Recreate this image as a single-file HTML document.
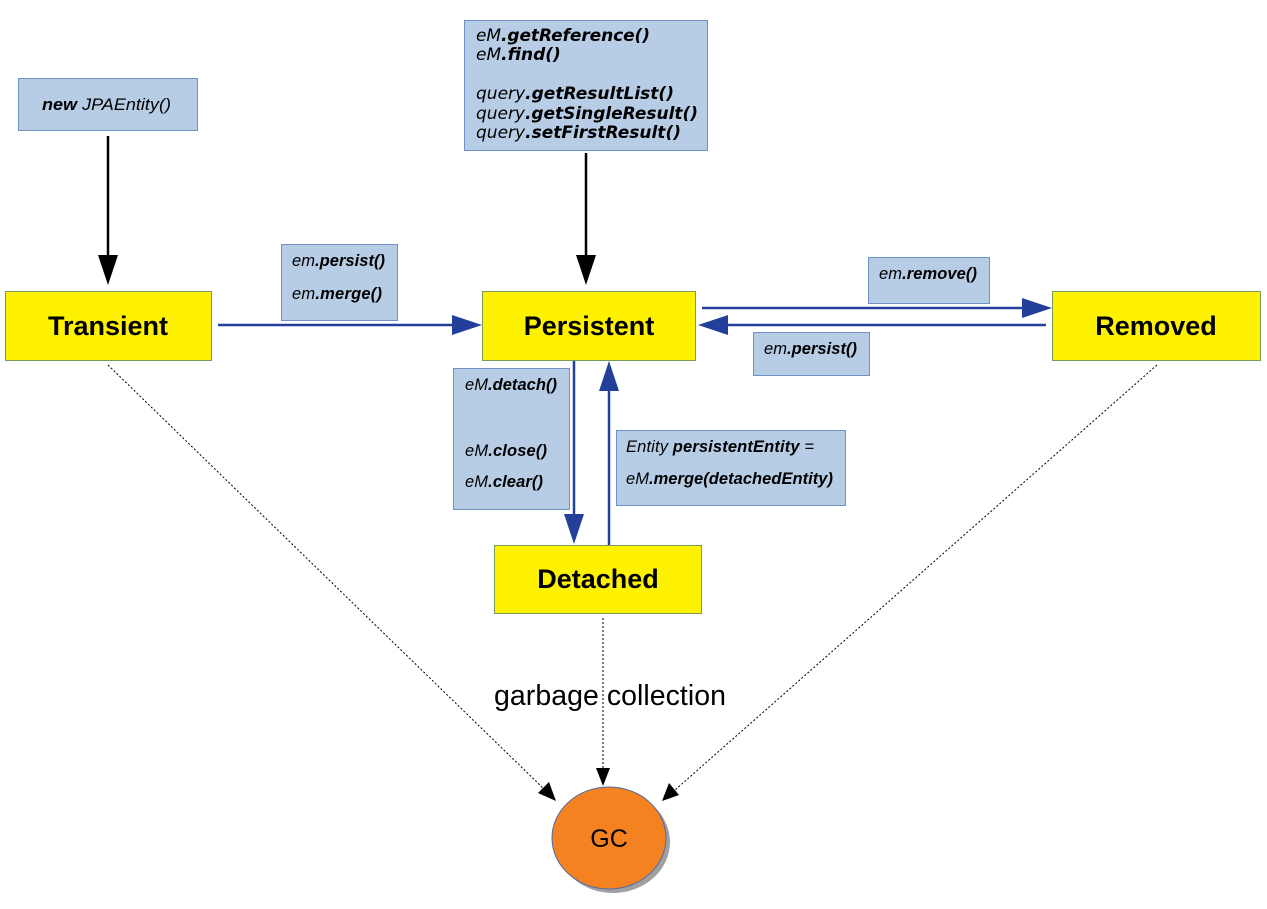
<!DOCTYPE html>
<html><head><meta charset="utf-8"><style>
html,body{margin:0;padding:0;background:#fff;}
svg{display:block;}
.lb{fill:#b7cde6;stroke:#6f92c4;stroke-width:1;}
.st{fill:#fff200;stroke:#7a9a5a;stroke-width:1;}
.sm{font-family:"Liberation Sans",sans-serif;font-style:italic;font-size:16.5px;fill:#000;}
.dv{font-family:"DejaVu Sans",sans-serif;font-style:italic;font-size:17px;fill:#000;}
.big{font-family:"Liberation Sans",sans-serif;font-weight:bold;font-size:27px;fill:#000;text-anchor:middle;}
.b{font-weight:bold;}
</style></head><body>
<svg width="1267" height="909" viewBox="0 0 1267 909" xmlns="http://www.w3.org/2000/svg">
<g stroke="#000" stroke-width="1" stroke-dasharray="2,2" fill="none">
<line x1="108" y1="365" x2="545" y2="790"/>
<line x1="603" y1="618" x2="603" y2="770"/>
<line x1="1157" y1="365" x2="675" y2="790"/>
</g>
<polygon points="556,801 538,793 549,782" fill="#000"/>
<polygon points="603,786 596,768 610,768" fill="#000"/>
<polygon points="662,801 669,783 679,795" fill="#000"/>

<rect class="lb" x="18.5" y="78.5" width="179" height="52"/>
<text class="sm" x="42" y="110" font-size="17.5" textLength="129" lengthAdjust="spacingAndGlyphs"><tspan class="b">new</tspan> JPAEntity()</text>
<rect class="lb" x="464.5" y="20.5" width="243" height="130"/>
<text class="dv" x="476" y="41" textLength="174">eM<tspan class="b">.getReference()</tspan></text>
<text class="dv" x="476" y="60">eM<tspan class="b">.find()</tspan></text>
<text class="dv" x="476" y="99" textLength="198">query<tspan class="b">.getResultList()</tspan></text>
<text class="dv" x="476" y="119" textLength="222">query<tspan class="b">.getSingleResult()</tspan></text>
<text class="dv" x="476" y="138" textLength="205">query<tspan class="b">.setFirstResult()</tspan></text>

<line x1="108" y1="136" x2="108" y2="258" stroke="#000" stroke-width="2.5"/>
<polygon points="98,255 118,255 108,285" fill="#000"/>
<line x1="586" y1="153" x2="586" y2="258" stroke="#000" stroke-width="2.5"/>
<polygon points="576,255 596,255 586,285" fill="#000"/>

<g stroke="#22409a" stroke-width="2.5">
<line x1="218" y1="325" x2="455" y2="325"/>
<line x1="702" y1="308" x2="1025" y2="308"/>
<line x1="1046" y1="325" x2="725" y2="325"/>
<line x1="574" y1="360" x2="574" y2="518"/>
<line x1="609" y1="545" x2="609" y2="390"/>
</g>
<g fill="#22409a">
<polygon points="452,315 482,325 452,335"/>
<polygon points="1022,298 1052,308 1022,318"/>
<polygon points="728,315 698,325 728,335"/>
<polygon points="564,514 584,514 574,544"/>
<polygon points="599,391 619,391 609,361"/>
</g>

<rect class="lb" x="281.5" y="244.5" width="116" height="76"/>
<text class="sm" x="292" y="266" textLength="93">em<tspan class="b">.persist()</tspan></text>
<text class="sm" x="292" y="299" textLength="90">em<tspan class="b">.merge()</tspan></text>
<rect class="lb" x="868.5" y="257.5" width="121" height="46"/>
<text class="sm" x="879" y="279" textLength="98">em<tspan class="b">.remove()</tspan></text>
<rect class="lb" x="753.5" y="332.5" width="116" height="43"/>
<text class="sm" x="764" y="354" textLength="93">em<tspan class="b">.persist()</tspan></text>
<rect class="lb" x="453.5" y="368.5" width="116" height="141"/>
<text class="sm" x="465" y="390" textLength="92">eM<tspan class="b">.detach()</tspan></text>
<text class="sm" x="465" y="456" textLength="82">eM<tspan class="b">.close()</tspan></text>
<text class="sm" x="465" y="487" textLength="78">eM<tspan class="b">.clear()</tspan></text>
<rect class="lb" x="616.5" y="430.5" width="229" height="75"/>
<text class="sm" x="626" y="452" textLength="188">Entity <tspan class="b">persistentEntity</tspan> =</text>
<text class="sm" x="626" y="484" textLength="207">eM<tspan class="b">.merge(detachedEntity)</tspan></text>

<rect class="st" x="5.5" y="291.5" width="206" height="69"/>
<text class="big" x="108" y="335">Transient</text>
<rect class="st" x="482.5" y="291.5" width="213" height="69"/>
<text class="big" x="589" y="335">Persistent</text>
<rect class="st" x="1052.5" y="291.5" width="208" height="69"/>
<text class="big" x="1156" y="335">Removed</text>
<rect class="st" x="494.5" y="545.5" width="207" height="68"/>
<text class="big" x="598" y="588">Detached</text>

<text x="494" y="705" font-family="'Liberation Sans',sans-serif" font-size="28.5" textLength="232">garbage collection</text>

<ellipse cx="613" cy="842" rx="57" ry="51" fill="#a0a0a0"/>
<ellipse cx="609" cy="838" rx="57" ry="51" fill="#f58220" stroke="#4a6aa8" stroke-width="1"/>
<text x="609" y="847" font-family="'Liberation Sans',sans-serif" font-size="25" text-anchor="middle">GC</text>
</svg>
</body></html>
